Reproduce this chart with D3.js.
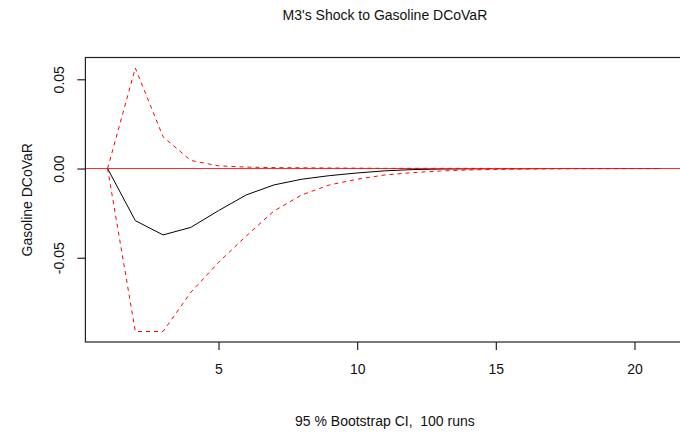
<!DOCTYPE html>
<html>
<head>
<meta charset="utf-8">
<script src="https://cdn.jsdelivr.net/npm/d3@7"></script>
<style>
  html, body { margin: 0; padding: 0; background: #fff; overflow: hidden; }
  svg { display: block; }
  text { font-family: "Liberation Sans", Arial, sans-serif; font-size: 14px; fill: #111; white-space: pre; }
</style>
</head>
<body>
<svg id="chart" width="680" height="436"></svg>
<script>
// ---- data ----
const steps = [1, 2, 3, 4, 5, 6, 7, 8, 9, 10, 11, 12, 13, 14, 15, 16, 17, 18, 19, 20, 21];
const irf   = [0, -0.0292, -0.0372, -0.0330, -0.0236, -0.0148, -0.0092, -0.0060, -0.0040, -0.0025,
               -0.0013, -0.0006, -0.0003, -0.0002, -0.0001, -0.0001, 0, 0, 0, 0, 0];
const upper = [0, 0.0563, 0.0178, 0.0045, 0.0015, 0.0008, 0.0005, 0.0004, 0.0003, 0.0002,
               0.0001, 0.0001, 0.0001, 0.0001, 0, 0, 0, 0, 0, 0, 0];
const lower = [0, -0.0913, -0.0913, -0.0694, -0.0526, -0.0378, -0.0238, -0.0148, -0.0092, -0.0060,
               -0.0036, -0.0023, -0.0014, -0.0008, -0.0005, -0.0003, -0.0002, -0.0001, -0.0001, 0, 0];
const xTicks = [5, 10, 15, 20];
const yTicks = [-0.05, 0, 0.05];
const yTickLabels = ["-0.05", "0.00", "0.05"];
const titleText = "M3's Shock to Gasoline DCoVaR";
const xLabelText = "95 % Bootstrap CI,  100 runs";
const yLabelText = "Gasoline DCoVaR";

// ---- layout ----
const svg = d3.select("#chart");
const plot = { left: 85.4, right: 684.4, top: 57.5, bottom: 342 };

// R-style 4% axis extension
function padExtent(vals) {
  const [a, b] = d3.extent(vals);
  const p = (b - a) * 0.04;
  return [a - p, b + p];
}
const x = d3.scaleLinear().domain(padExtent(steps)).range([plot.left, plot.right]);
const y = d3.scaleLinear().domain(padExtent(lower.concat(upper, irf))).range([plot.bottom, plot.top]);

const line = d3.line().x((d, i) => x(steps[i])).y(d => y(d));

svg.append("clipPath").attr("id", "clip")
  .append("rect").attr("x", plot.left).attr("y", plot.top)
  .attr("width", plot.right - plot.left).attr("height", plot.bottom - plot.top);

const g = svg.append("g").attr("clip-path", "url(#clip)");

// IRF line
g.append("path").datum(irf).attr("d", line)
  .attr("fill", "none").attr("stroke", "#000").attr("stroke-width", 1);

// zero line
g.append("line")
  .attr("x1", plot.left).attr("x2", plot.right)
  .attr("y1", y(0)).attr("y2", y(0))
  .attr("stroke", "#ff2a2a").attr("stroke-width", 1);

// CI lines
[upper, lower].forEach(s => {
  g.append("path").datum(s).attr("d", line)
    .attr("fill", "none").attr("stroke", "#ff0000").attr("stroke-width", 1)
    .attr("stroke-dasharray", "4,4");
});

// box
svg.append("rect")
  .attr("x", plot.left).attr("y", plot.top)
  .attr("width", plot.right - plot.left).attr("height", plot.bottom - plot.top)
  .attr("fill", "none").attr("stroke", "#222").attr("stroke-width", 1.2);

// x axis
const xAxis = d3.axisBottom(x).tickValues(xTicks).tickSize(8).tickPadding(12)
  .tickFormat(d3.format("d"));
const xa = svg.append("g").attr("transform", `translate(0,${plot.bottom})`).call(xAxis);
xa.select(".domain").remove();
xa.selectAll("line").attr("stroke", "#222").attr("stroke-width", 1.2);
xa.selectAll("text").attr("font-size", 14).attr("font-family", "Liberation Sans, Arial, sans-serif")
  .attr("fill", "#111").attr("dy", null).attr("y", 31.5);

// y axis
const yAxis = d3.axisLeft(y).tickValues(yTicks).tickSize(8)
  .tickFormat((d, i) => yTickLabels[i]);
const ya = svg.append("g").attr("transform", `translate(${plot.left},0)`).call(yAxis);
ya.select(".domain").remove();
ya.selectAll("line").attr("stroke", "#222").attr("stroke-width", 1.2);
ya.selectAll("text")
  .attr("font-size", 14).attr("font-family", "Liberation Sans, Arial, sans-serif").attr("fill", "#111")
  .attr("x", null).attr("dy", null).attr("text-anchor", "middle")
  .attr("transform", "translate(-21.5,0) rotate(-90)");

// title
svg.append("text").attr("x", (plot.left + plot.right) / 2).attr("y", 19.5)
  .attr("text-anchor", "middle").text(titleText);

// x label
svg.append("text").attr("x", (plot.left + plot.right) / 2).attr("y", 426)
  .attr("text-anchor", "middle").attr("xml:space", "preserve").text(xLabelText);

// y label
svg.append("text")
  .attr("transform", `translate(31.5,${(plot.top + plot.bottom) / 2}) rotate(-90)`)
  .attr("text-anchor", "middle").text(yLabelText);
</script>
</body>
</html>
